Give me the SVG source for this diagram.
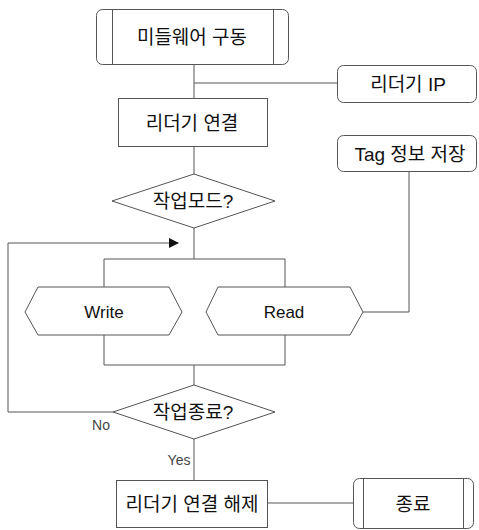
<svg xmlns="http://www.w3.org/2000/svg" width="479" height="530" viewBox="0 0 479 530">
<style>
.s{fill:#fff;stroke:#555;stroke-width:1}
.l{fill:none;stroke:#555;stroke-width:1}
text{font-family:"Liberation Sans","Noto Sans CJK KR",sans-serif;font-size:19px;fill:#111;text-anchor:middle;dominant-baseline:central}
.en{font-size:17px}
.sm{font-size:14px;fill:#444}
</style>
<defs>
<marker id="ah" markerWidth="10" markerHeight="10" refX="9" refY="5" orient="auto" markerUnits="userSpaceOnUse">
<path d="M0,0 L10,5 L0,10 z" fill="#111"/>
</marker>
</defs>
<g id="connectors">
<path class="l" d="M194,64 V98"/>
<path class="l" d="M194,83 H337"/>
<path class="l" d="M194,146 V174"/>
<path class="l" d="M194,228 V259"/>
<path class="l" d="M104,259 H285"/>
<path class="l" d="M104,259 V287"/>
<path class="l" d="M285,259 V287"/>
<path class="l" d="M104,335 V365"/>
<path class="l" d="M285,335 V365"/>
<path class="l" d="M104,365 H285"/>
<path class="l" d="M194,365 V385"/>
<path class="l" d="M409,171 V312 H363"/>
<path class="l" d="M113,412 H8 V243 H178" marker-end="url(#ah)"/>
<path class="l" d="M194,439 V480"/>
<path class="l" d="M267,503 H353"/>
</g>
<g id="start">
<rect class="s" x="96.5" y="9.5" width="192" height="55" rx="6"/>
<path class="l" d="M112.5,9.5 V64.5 M273.5,9.5 V64.5"/>
<text x="192" y="37">미들웨어 구동</text>
</g>
<g id="reader-ip">
<rect class="s" x="337.5" y="65.5" width="139" height="37" rx="6"/>
<text x="408" y="84">리더기 IP</text>
</g>
<g id="connect">
<rect class="s" x="118.5" y="98.5" width="149" height="48"/>
<text x="192" y="123">리더기 연결</text>
</g>
<g id="tag-save">
<rect class="s" x="337.5" y="135.5" width="139" height="36" rx="6"/>
<text x="410" y="154">Tag 정보 저장</text>
</g>
<g id="mode">
<polygon class="s" points="112,201 194,174 275,201 194,228"/>
<text x="193" y="201">작업모드?</text>
</g>
<g id="write">
<polygon class="s" points="25,312 38,287 169,287 182,312 169,335 38,335"/>
<text class="en" x="104" y="312">Write</text>
</g>
<g id="read">
<polygon class="s" points="206,312 218,287 350,287 363,312 350,335 218,335"/>
<text class="en" x="284" y="312">Read</text>
</g>
<g id="end-check">
<polygon class="s" points="113,412 194,385 275,412 194,439"/>
<text x="193" y="412">작업종료?</text>
<text class="sm" x="101" y="425">No</text>
<text class="sm" x="179" y="460">Yes</text>
</g>
<g id="disconnect">
<rect class="s" x="116.5" y="480.5" width="151" height="47"/>
<text x="192" y="504">리더기 연결 해제</text>
</g>
<g id="end">
<rect class="s" x="353.5" y="478.5" width="120" height="50" rx="6"/>
<path class="l" d="M363.5,478.5 V528.5 M463.5,478.5 V528.5"/>
<text x="413" y="504">종료</text>
</g>
</svg>
